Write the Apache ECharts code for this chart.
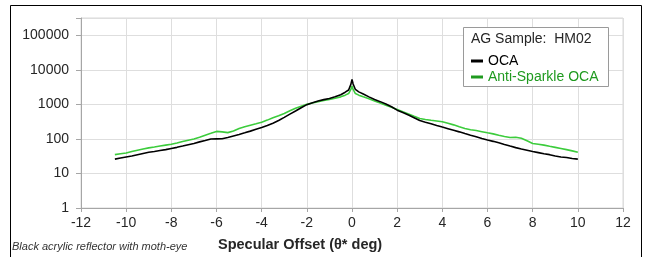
<!DOCTYPE html>
<html>
	<head>
		<meta charset="UTF-8">
		<title></title>
		<script src="https://cdn.jsdelivr.net/npm/echarts@6/dist/echarts.min.js"></script>
	</head>
	<body style="margin:0;background:#fff;">
		<div id="scatter_chart" style="width:647px;height:257px;"></div>
		<script>
			// 横轴 (deg)
			var offsets = [-10.5, -10.25, -10, -9.75, -9.5, -9.25, -9, -8.75, -8.5, -8.25, -8, -7.75, -7.5, -7.25, -7, -6.75, -6.5, -6.25, -6, -5.75, -5.5, -5.25, -5, -4.75, -4.5, -4.25, -4, -3.75, -3.5, -3.25, -3, -2.75, -2.5, -2.25, -2, -1.75, -1.5, -1.25, -1, -0.75, -0.5, -0.3, -0.15, -0.05, 0, 0.05, 0.15, 0.3, 0.5, 0.75, 1, 1.25, 1.5, 1.75, 2, 2.25, 2.5, 2.75, 3, 3.25, 3.5, 3.75, 4, 4.25, 4.5, 4.75, 5, 5.25, 5.5, 5.75, 6, 6.25, 6.5, 6.75, 7, 7.25, 7.5, 7.75, 8, 8.25, 8.5, 8.75, 9, 9.25, 9.5, 9.75, 10];
			// OCA
			var ocaVals = [26, 28, 30, 32, 35, 38, 41, 43, 46, 49, 53, 57, 62, 68, 74, 82, 90, 99, 100, 101, 110, 122, 135, 150, 168, 190, 214, 245, 285, 340, 420, 520, 640, 800, 980, 1120, 1250, 1370, 1480, 1650, 1900, 2250, 2600, 3800, 5300, 3900, 2700, 2300, 2000, 1650, 1380, 1200, 1030, 850, 680, 580, 490, 410, 340, 305, 275, 245, 220, 198, 178, 160, 143, 128, 115, 103, 93, 85, 77, 69, 62, 56, 51, 47, 43, 40, 37, 35, 32, 30, 29, 27, 26];
			// Anti-Sparkle OCA
			var antiVals = [35, 37, 39, 43, 47, 51, 55, 58, 62, 66, 70, 76, 84, 92, 100, 112, 128, 145, 165, 160, 152, 170, 200, 225, 250, 275, 305, 350, 410, 470, 545, 650, 770, 880, 1000, 1100, 1200, 1290, 1380, 1500, 1650, 1850, 2050, 2700, 3400, 2700, 2050, 1850, 1650, 1450, 1260, 1100, 950, 820, 710, 610, 530, 450, 390, 365, 345, 330, 315, 285, 255, 225, 200, 185, 175, 162, 150, 140, 128, 118, 110, 112, 104, 88, 74, 70, 66, 61, 57, 53, 49, 45, 41];
			var seriesNames = ['OCA', 'Anti-Sparkle OCA'];

			function pairs(xs, ys){
				var out = [];
				for(var i=0;i<xs.length;i++){
					out.push([xs[i], ys[i]]);
				}
				return out;
			}

			var option = {
				animation: false,
				grid: {
					left: 81, right: 24, top: 18, bottom: 49,
					show: true, borderColor: '#d9d9d9', borderWidth: 1
				},
				xAxis: {
					type: 'value',
					min: -12, max: 12, interval: 2,
					axisLine: {onZero: false, lineStyle: {color: '#a6a6a6'}},
					axisTick: {show: true, length: 4, lineStyle: {color: '#a6a6a6'}},
					axisLabel: {color: '#262626', fontSize: 14, margin: 8, fontFamily: 'Liberation Sans'},
					splitLine: {lineStyle: {color: '#dedede'}}
				},
				yAxis: {
					type: 'log',
					logBase: 10,
					min: 1, max: 316228,
					axisLine: {show: true, onZero: false, lineStyle: {color: '#a6a6a6'}},
					axisTick: {show: true, length: 5, lineStyle: {color: '#a6a6a6'}},
					axisLabel: {
						color: '#262626', fontSize: 14, margin: 12, fontFamily: 'Liberation Sans',
						formatter: function(v){
							var l = Math.log(v) / Math.LN10;
							if(Math.abs(l - Math.round(l)) > 1e-6) return '';
							return String(Math.round(Math.pow(10, Math.round(l))));
						}
					},
					splitLine: {lineStyle: {color: '#dedede'}}
				},
				legend: {
					orient: 'vertical',
					left: 471, top: 53,
					z: 20,
					itemWidth: 12, itemHeight: 3, itemGap: 0,
					icon: 'rect',
					padding: 0,
					textStyle: {fontSize: 14, lineHeight: 16, fontFamily: 'Liberation Sans'},
					data: [
						{name: seriesNames[0], textStyle: {color: '#000'}, itemStyle: {color: '#000'}},
						{name: seriesNames[1], textStyle: {color: '#1f9a1f'}, itemStyle: {color: '#1f9a1f'}}
					]
				},
				graphic: [
					{
						type: 'rect', z: -1, silent: true,
						shape: {x: 10.5, y: 5.5, width: 631, height: 260},
						style: {fill: 'none', stroke: '#000', lineWidth: 1}
					},
					{
						type: 'rect', z: 10,
						shape: {x: 463.5, y: 27.5, width: 145, height: 59},
						style: {fill: '#fff', stroke: '#9a9a9a', lineWidth: 1}
					},
					{
						type: 'text', z: 11, left: 471, top: 32,
						style: {text: 'AG Sample:  HM02', fill: '#262626', fontSize: 14, fontFamily: 'Liberation Sans'}
					},
					{
						type: 'text', left: 218, top: 237,
						style: {text: 'Specular Offset (θ* deg)', fill: '#262626', fontSize: 14.5, fontWeight: 'bold', fontFamily: 'Liberation Sans'}
					},
					{
						type: 'text', left: 12, top: 241,
						style: {text: 'Black acrylic reflector with moth-eye', fill: '#333', fontSize: 11, fontStyle: 'italic', fontFamily: 'Liberation Sans'}
					}
				],
				series: [
					{
						name: seriesNames[0],
						type: 'line',
						showSymbol: false,
						z: 3,
						lineStyle: {color: '#000', width: 1.6},
						itemStyle: {color: '#000'},
						data: pairs(offsets, ocaVals)
					},
					{
						name: seriesNames[1],
						type: 'line',
						showSymbol: false,
						z: 2,
						lineStyle: {color: '#3ccc3c', width: 1.6},
						itemStyle: {color: '#1f9a1f'},
						data: pairs(offsets, antiVals)
					}
				]
			};

			var myChart = echarts.init(document.getElementById('scatter_chart'));
			myChart.setOption(option, true);
		</script>
	</body>
</html>
